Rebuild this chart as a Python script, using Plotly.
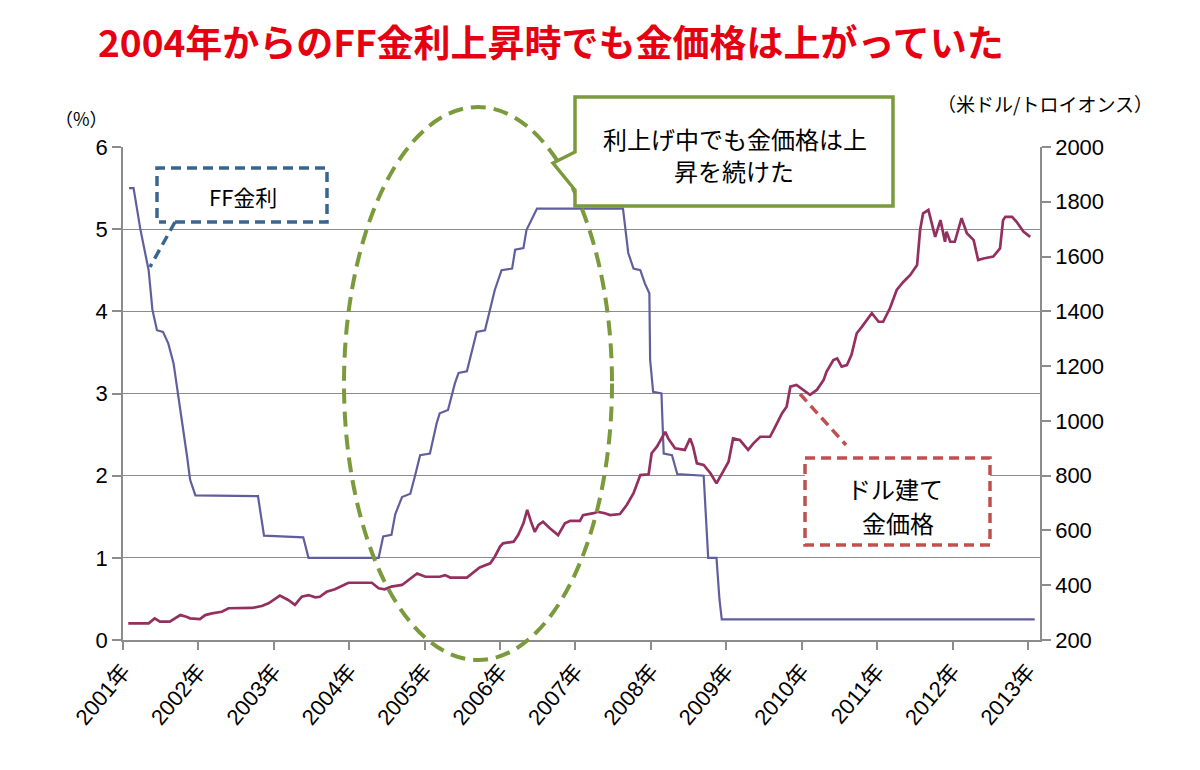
import plotly.graph_objects as go

# ---------------- data ----------------
years = list(range(2001, 2014))
year_labels = [f"{y}年" for y in years]

left_ticks = [0, 1, 2, 3, 4, 5, 6]
right_ticks = [200, 400, 600, 800, 1000, 1200, 1400, 1600, 1800, 2000]

# FF rate (%) – time in decimal years
ff_t = [2001.08, 2001.14, 2001.23, 2001.34, 2001.39, 2001.45, 2001.53, 2001.60, 2001.67,
        2001.71, 2001.78, 2001.85, 2001.89, 2001.96, 2002.79, 2002.87, 2003.39, 2003.46,
        2004.39, 2004.45, 2004.56, 2004.61, 2004.70, 2004.81, 2004.87, 2004.94, 2005.07,
        2005.16, 2005.20, 2005.31, 2005.40, 2005.45, 2005.56, 2005.65, 2005.69, 2005.80,
        2005.87, 2005.93, 2006.02, 2006.16, 2006.20, 2006.31, 2006.35, 2006.49, 2007.63,
        2007.66, 2007.70, 2007.77, 2007.86, 2007.92, 2007.98, 2007.99, 2008.03, 2008.14,
        2008.17, 2008.28, 2008.35, 2008.70, 2008.74, 2008.76, 2008.87, 2008.91, 2008.94,
        2013.09]
ff_v = [5.50, 5.50, 5.00, 4.50, 4.02, 3.77, 3.75, 3.61, 3.37,
        3.12, 2.72, 2.23, 1.95, 1.76, 1.75, 1.27, 1.25, 1.00,
        1.00, 1.26, 1.28, 1.53, 1.74, 1.78, 1.99, 2.25, 2.27,
        2.64, 2.76, 2.80, 3.12, 3.25, 3.27, 3.61, 3.75, 3.77,
        4.02, 4.26, 4.50, 4.52, 4.75, 4.77, 4.99, 5.25, 5.25,
        4.99, 4.71, 4.52, 4.50, 4.34, 4.22, 3.41, 3.02, 3.00,
        2.27, 2.25, 2.02, 2.00, 1.41, 1.00, 1.00, 0.49, 0.25,
        0.25]

# Gold price (USD / troy ounce)
gold_t = [2001.07, 2001.34, 2001.42, 2001.49, 2001.62, 2001.76, 2001.84, 2001.89, 2002.02,
          2002.09, 2002.18, 2002.31, 2002.40, 2002.71, 2002.84, 2002.93, 2003.08, 2003.19,
          2003.28, 2003.37, 2003.46, 2003.55, 2003.61, 2003.70, 2003.81, 2003.90, 2003.99,
          2004.30, 2004.39, 2004.47, 2004.56, 2004.70, 2004.78, 2004.90, 2005.01, 2005.20,
          2005.27, 2005.34, 2005.56, 2005.65, 2005.73, 2005.87, 2005.93, 2006.00, 2006.04,
          2006.18, 2006.24, 2006.31, 2006.36, 2006.41, 2006.46, 2006.51, 2006.57, 2006.66,
          2006.77, 2006.86, 2006.93, 2007.06, 2007.10, 2007.24, 2007.30, 2007.39, 2007.46,
          2007.59, 2007.68, 2007.77, 2007.86, 2007.97, 2008.01, 2008.08, 2008.14, 2008.19,
          2008.23, 2008.32, 2008.45, 2008.52, 2008.56, 2008.61, 2008.70, 2008.79, 2008.87,
          2008.94, 2009.03, 2009.09, 2009.18, 2009.29, 2009.36, 2009.45, 2009.58, 2009.65,
          2009.74, 2009.80, 2009.85, 2009.93, 2010.02, 2010.11, 2010.20, 2010.29, 2010.33,
          2010.42, 2010.47, 2010.53, 2010.60, 2010.66, 2010.73, 2010.80, 2010.93, 2011.02,
          2011.08, 2011.17, 2011.26, 2011.35, 2011.44, 2011.53, 2011.57, 2011.61, 2011.68,
          2011.73, 2011.77, 2011.84, 2011.90, 2011.92, 2011.97, 2012.03, 2012.12, 2012.19,
          2012.28, 2012.34, 2012.41, 2012.54, 2012.63, 2012.67, 2012.70, 2012.79, 2012.85,
          2012.94, 2013.03]
gold_v = [261, 261, 279, 267, 267, 291, 285, 279, 276,
          291, 297, 303, 316, 317, 324, 334, 362, 346,
          328, 358, 364, 356, 358, 376, 385, 397, 409,
          409, 389, 385, 395, 401, 419, 443, 431, 431,
          437, 428, 428, 449, 465, 480, 504, 541, 553,
          559, 583, 626, 675, 632, 595, 620, 632, 608,
          583, 626, 635, 635, 656, 663, 668, 663, 656,
          660, 693, 736, 802, 805, 882, 906, 936, 960,
          936, 900, 894, 936, 906, 845, 839, 809, 772,
          809, 851, 936, 930, 894, 918, 942, 942, 979,
          1028, 1052, 1125, 1131, 1113, 1095, 1113, 1149, 1180,
          1222, 1228, 1198, 1204, 1241, 1320, 1344, 1393, 1362,
          1362, 1411, 1478, 1508, 1533, 1569, 1697, 1758, 1770,
          1709, 1672, 1733, 1654, 1691, 1654, 1654, 1740, 1685,
          1660, 1587, 1593, 1600, 1630, 1733, 1745, 1745, 1727,
          1691, 1672]

title_text = "2004年からのFF金利上昇時でも金価格は上がっていた"
callout_ff = "FF金利"
callout_green = ["利上げ中でも金価格は上", "昇を続けた"]
callout_gold = ["ドル建て", "金価格"]

# ---------------- layout helpers (pixel -> paper) ----------------
W, H = 1200, 770
PL, PR, PT, PB = 123, 1040, 147, 640


def px(x):
    return (x - PL) / (PR - PL)


def py(y):
    return (PB - y) / (PB - PT)


def path(points, close=False):
    s = "M " + " L ".join(f"{px(a):.5f},{py(b):.5f}" for a, b in points)
    return s + (" Z" if close else "")


JP = "Noto Sans CJK JP"
NUM = "Liberation Sans, Arial, " + JP

FF_COLOR = "#5f5f9e"
GOLD_COLOR = "#93305f"
GRID = "#8c8c8c"
GREEN = "#7a9a3c"
BLUE_D = "#3a6590"
RED_D = "#c0504d"

fig = go.Figure()
fig.add_trace(go.Scatter(x=ff_t, y=ff_v, mode="lines", name="FF金利",
                         line=dict(color=FF_COLOR, width=2.2), yaxis="y"))
fig.add_trace(go.Scatter(x=gold_t, y=gold_v, mode="lines", name="金価格",
                         line=dict(color=GOLD_COLOR, width=2.7), yaxis="y2"))

shapes = []
# green dashed ellipse
shapes.append(dict(type="circle", xref="paper", yref="paper", layer="above",
                   x0=px(344), x1=px(612), y0=py(660), y1=py(107),
                   line=dict(color=GREEN, width=4, dash="15px,8px")))
# green callout box (solid, white fill)
shapes.append(dict(type="path", xref="paper", yref="paper", layer="above",
                   path=path([(575, 97), (893, 97), (893, 206), (575, 206), (575, 190),
                              (553, 163), (575, 152)], close=True),
                   line=dict(color=GREEN, width=3.5), fillcolor="white"))
# FF callout (blue dashed)
shapes.append(dict(type="path", xref="paper", yref="paper", layer="above",
                   path=path([(175, 222), (327, 222), (327, 168), (157, 168), (157, 222), (166, 222)]),
                   line=dict(color=BLUE_D, width=3.5, dash="10px,6px")))
shapes.append(dict(type="path", xref="paper", yref="paper", layer="above",
                   path=path([(175, 222), (150, 267)]),
                   line=dict(color=BLUE_D, width=3.5, dash="10px,6px")))
# gold callout (red dashed)
shapes.append(dict(type="path", xref="paper", yref="paper", layer="above",
                   path=path([(805, 458), (990, 458), (990, 545), (805, 545)], close=True),
                   line=dict(color=RED_D, width=3.5, dash="10px,6px"), fillcolor="white"))
shapes.append(dict(type="path", xref="paper", yref="paper", layer="above",
                   path=path([(800, 394), (846, 445)]),
                   line=dict(color=RED_D, width=3.5, dash="10px,6px")))

annotations = []


def text(x, y, s, size, color="black", family=JP, bold=False):
    annotations.append(dict(xref="paper", yref="paper", x=px(x), y=py(y), text=(f"<b>{s}</b>" if bold else s),
                            showarrow=False, xanchor="center", yanchor="middle",
                            font=dict(family=family, size=size, color=color)))


text(551, 41, title_text, 37, color="#e50012", bold=True)
text(81, 118, "（%）", 18)
text(1045, 104, "（米ドル/トロイオンス）", 19)
text(243, 196, callout_ff, 22)
text(735, 138, callout_green[0], 24)
text(734, 170, callout_green[1], 24)
text(895, 488, callout_gold[0], 24)
text(898, 522, callout_gold[1], 24)

fig.update_layout(
    width=W, height=H,
    margin=dict(l=PL, r=W - PR, t=PT, b=H - PB, pad=0),
    paper_bgcolor="white", plot_bgcolor="white",
    showlegend=False,
    shapes=shapes, annotations=annotations,
    xaxis=dict(range=[2001, 2013.16], tickmode="array", tickvals=years, ticktext=year_labels,
               tickangle=-50, ticks="outside", ticklen=8, tickcolor=GRID, tickwidth=1.5,
               showline=True, linecolor=GRID, linewidth=1.5, showgrid=False, zeroline=False,
               tickfont=dict(family=NUM, size=22, color="black")),
    yaxis=dict(range=[0, 6], tickmode="array", tickvals=left_ticks, ticks="outside", ticklen=9,
               tickcolor=GRID, tickwidth=1.5, showline=True, linecolor=GRID, linewidth=1.5,
               showgrid=True, gridcolor=GRID, gridwidth=1.3, zeroline=False,
               tickfont=dict(family=NUM, size=22, color="black")),
    yaxis2=dict(range=[200, 2000], tickmode="array", tickvals=right_ticks, overlaying="y", side="right",
                ticks="outside", ticklen=9, tickcolor=GRID, tickwidth=1.5, showline=True,
                linecolor=GRID, linewidth=1.5, showgrid=False, zeroline=False,
                tickfont=dict(family=NUM, size=22, color="black")),
)

fig.write_html("out.html")
